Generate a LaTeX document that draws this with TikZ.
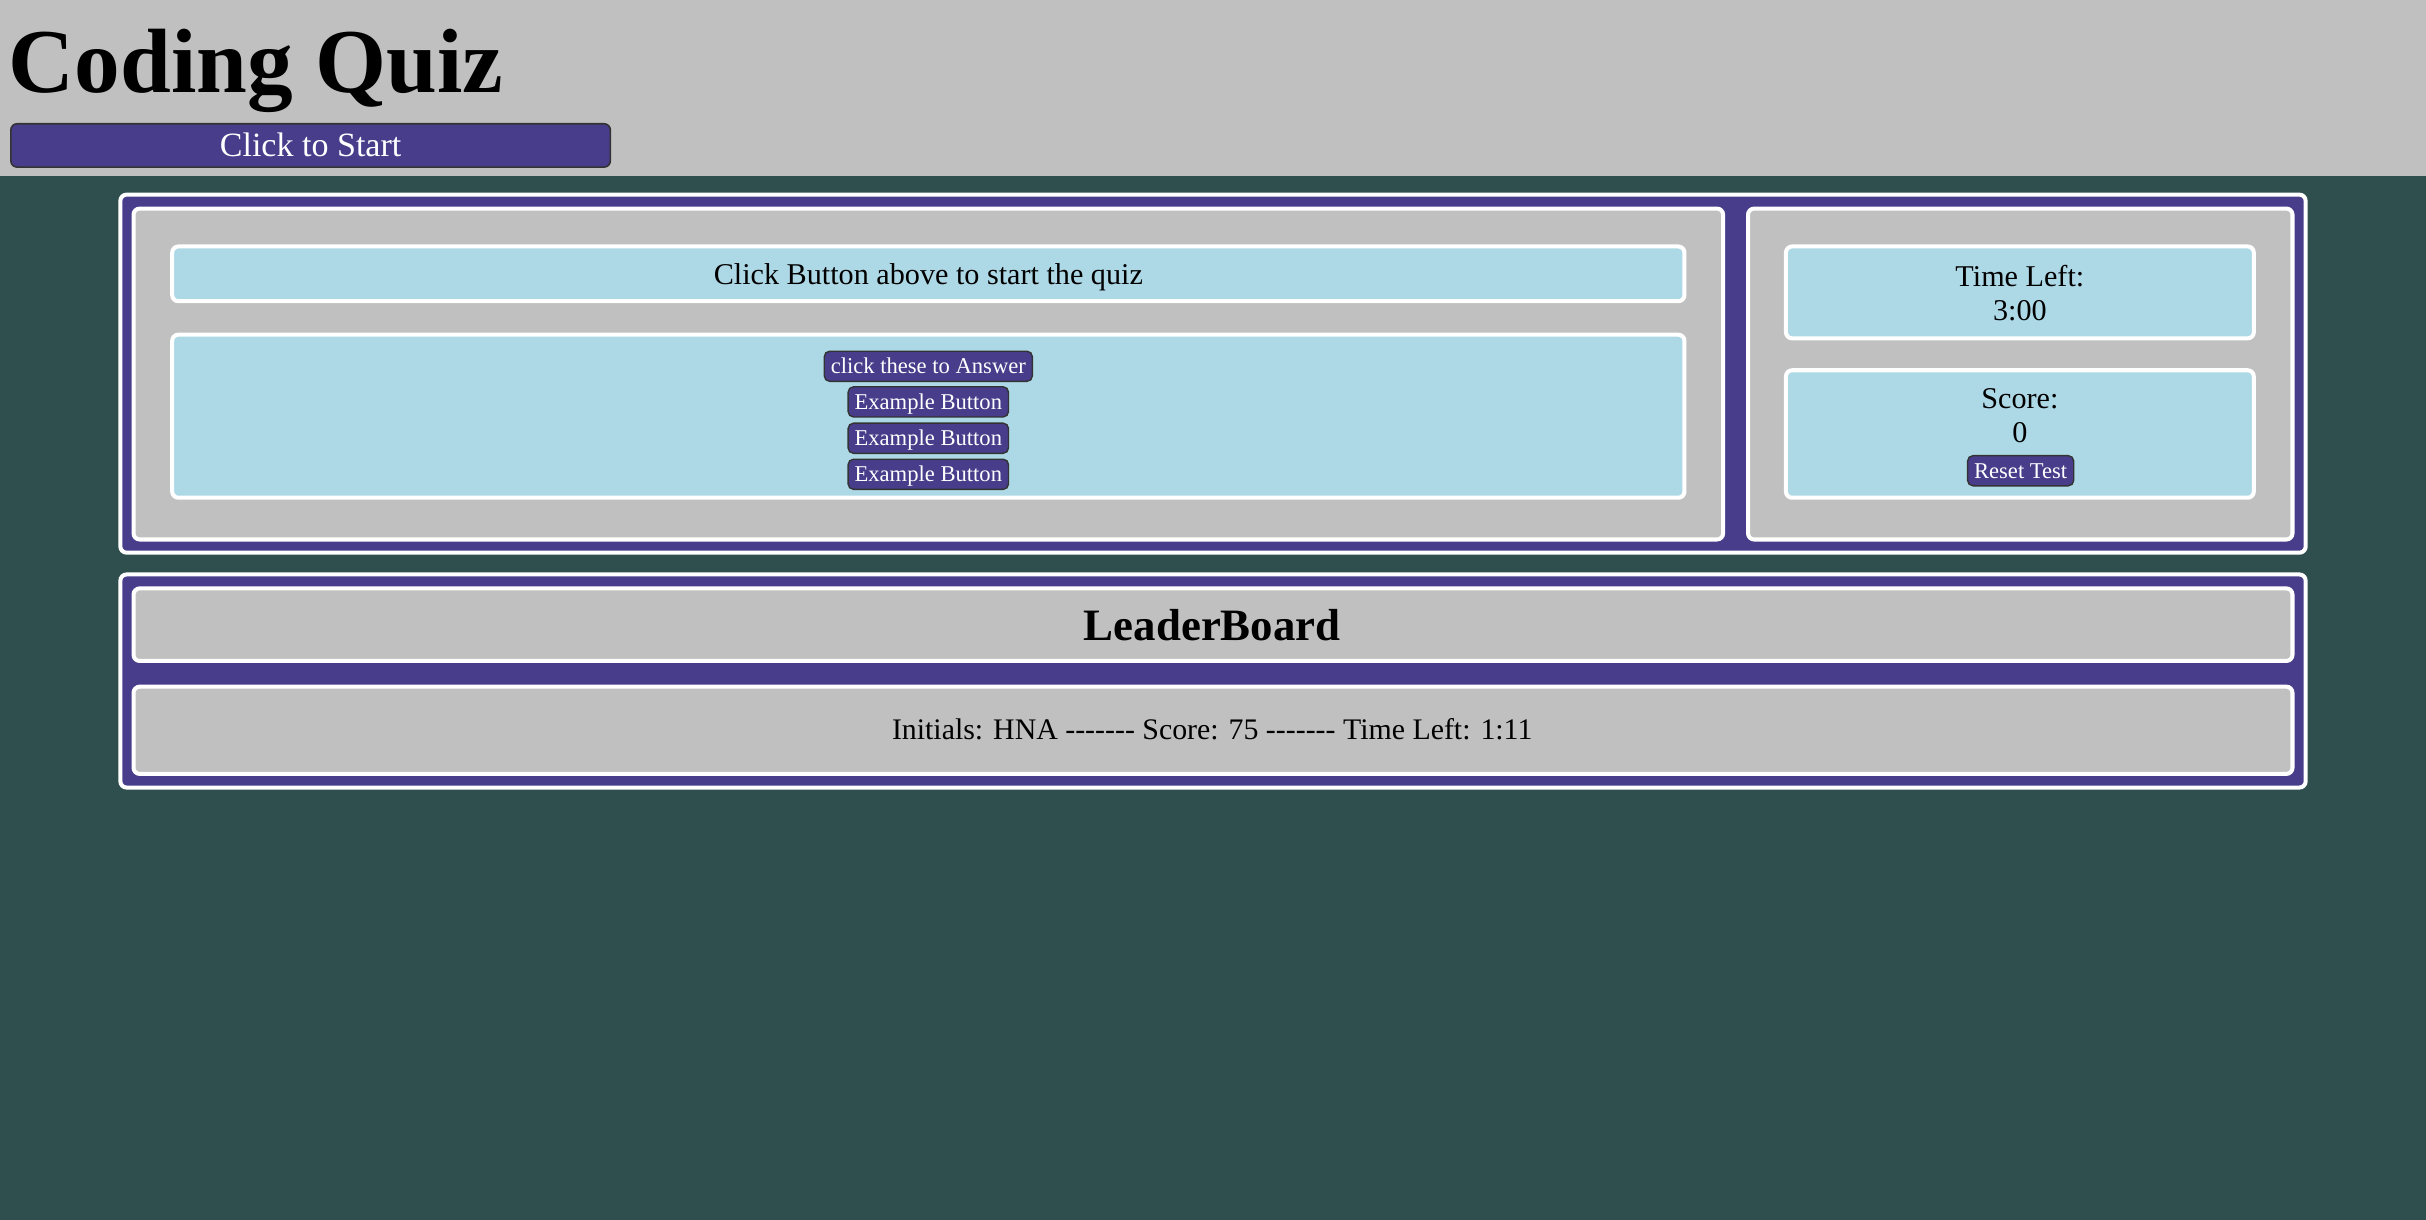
\documentclass[tikz,border=0pt]{standalone}
\usepackage{fontspec}
\setmainfont{Liberation Serif}[Ligatures=TeXOff]
\usepackage{xcolor}
\usepackage{tikz}
\usetikzlibrary{positioning}

\definecolor{slatebg}{HTML}{2F4F4F}
\definecolor{headgray}{HTML}{C0C0C0}
\definecolor{quizpurple}{HTML}{483D8B}
\definecolor{quizblue}{HTML}{ADD8E6}

\tikzset{
	panelbox/.style={draw=white, line width=2.6pt, rounded corners=4pt, fill=quizpurple},
	cardbox/.style={panelbox, fill=headgray},
	infobox/.style={panelbox, fill=quizblue},
	bodytext/.style={anchor=base, inner sep=0pt, font=\fontsize{19.5}{22}\selectfont},
	quizbtn/.style={anchor=base, fill=quizpurple, draw=black!80, line width=0.9pt,
		rounded corners=3.5pt, text=white, font=\fontsize{14.6}{16}\selectfont,
		inner xsep=4.2pt, inner ysep=2pt, text height=12.5pt, text depth=3pt},
	startbtn/.style={quizbtn, font=\fontsize{22}{24}\selectfont, minimum width=387.5pt,
		inner xsep=0pt, text height=19pt, text depth=5pt, rounded corners=4pt, line width=1pt},
}

\begin{document}
\begin{tikzpicture}[x=1pt,y=-1pt]
	\useasboundingbox (0,0) rectangle (1568,788.5);
	\fill[slatebg] (0,0) rectangle (1568,788.5);
	\fill[headgray] (0,0) rectangle (1568,114);

	% header
	\node[anchor=base west, inner sep=0pt, font=\bfseries\fontsize{59}{64}\selectfont] (title) at (5.5,60) {Coding Quiz};
	\node[startbtn] (start) at (200.75,101) {Click to Start};

	% quiz panel
	\draw[panelbox] (77.8,125.8) rectangle (1490.2,357.2);
	\draw[cardbox] (86.3,134.8) rectangle (1113.7,348.7);
	\draw[cardbox] (1129.8,134.8) rectangle (1481.7,348.7);

	\draw[infobox] (111.3,159.3) rectangle (1088.7,194.7);
	\draw[infobox] (111.3,216.3) rectangle (1088.7,321.7);
	\node[bodytext] (question) at (600,184) {Click Button above to start the quiz};

	% answer buttons
	\node[quizbtn] (answer0) at (600,241.5) {click these to Answer};
	\foreach \y [count=\i] in {264.5,288,311.3} {
	  \node[quizbtn] (answer\i) at (600,\y) {Example Button};
	}

	% timer and score
	\draw[infobox] (1154.3,159.3) rectangle (1456.7,218.7);
	\draw[infobox] (1154.3,239.3) rectangle (1456.7,321.7);
	\node[bodytext] (timelabel) at (1305.5,185) {Time Left:};
	\node[bodytext] (timevalue) at (1305.5,207) {3:00};
	\node[bodytext] (scorelabel) at (1305.5,264) {Score:};
	\node[bodytext] (scorevalue) at (1305.5,286) {0};
	\node[quizbtn] (reset) at (1306,309) {Reset Test};

	% leaderboard
	\draw[panelbox] (77.8,371.3) rectangle (1490.2,509);
	\draw[cardbox] (86.3,380.3) rectangle (1481.7,427.2);
	\draw[cardbox] (86.3,443.8) rectangle (1481.7,500.2);
	\node[bodytext, font=\bfseries\fontsize{29}{32}\selectfont] (board) at (783.5,413.7) {LeaderBoard};
	\node[bodytext, font=\fontsize{19.3}{22}\selectfont] (entry) at (783.5,478) {Initials: HNA ------- Score: 75 ------- Time Left: 1:11};
\end{tikzpicture}
\end{document}
